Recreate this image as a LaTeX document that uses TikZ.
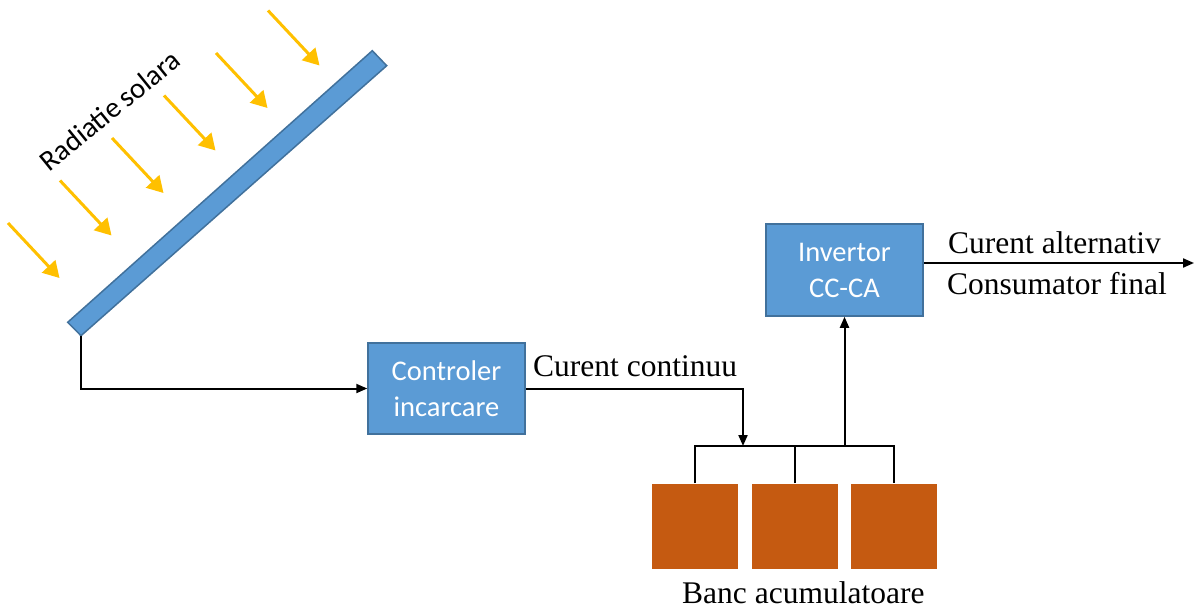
\documentclass[tikz,border=0pt]{standalone}
\usepackage{fontspec}
\setmainfont{Liberation Serif}
\newfontfamily\calfont{Carlito}
\usetikzlibrary{arrows.meta}
\definecolor{panelblue}{HTML}{5B9BD5}
\definecolor{paneledge}{HTML}{41719C}
\definecolor{sunray}{HTML}{FFC000}
\definecolor{cellfill}{HTML}{C55A11}
\tikzset{
  blockbox/.style={draw=paneledge, line width=1.5pt, fill=panelblue, text=white,
    minimum width=157pt, inner sep=0pt, align=center,
    font=\calfont\fontsize{28.5}{36}\selectfont},
  cellbox/.style={fill=cellfill, draw=none, minimum width=86pt, minimum height=85pt, inner sep=0pt},
  wire/.style={draw=black, line width=2pt},
  flow/.style={wire, -{Triangle[length=11pt,width=9pt]}},
  ray/.style={draw=sunray, line width=3pt, -{Triangle[length=16pt,width=18pt]}},
  serif/.style={font=\fontsize{31.5}{36}\selectfont, inner sep=0pt}
}
\begin{document}
\begin{tikzpicture}[x=1pt,y=-1pt]
\useasboundingbox (0,0) rectangle (1196,607);

% solar panel, drawn as a tilted slab
\draw[fill=panelblue, draw=paneledge, line width=1.5pt]
  (372.3,50.7) -- (386.7,65.7) -- (81,335.7) -- (67.7,322.3) -- cycle;
\coordinate (panelfoot) at (81,335.7);

% incoming sun rays
\foreach \i in {0,...,5}{
  \coordinate (rs\i) at ({8+52*\i},{223-42.5*\i});
  \coordinate (re\i) at ({59.5+52*\i},{278-42.5*\i});
  \draw[ray] (rs\i) -- (re\i);
}
\node[rotate=39, anchor=base, inner sep=0pt, font=\calfont\fontsize{29}{34}\selectfont]
  (sunlabel) at (116,118) {Radiatie\kern-1pt\ solara};

% blocks
\node[blockbox, minimum height=91pt] (ctrl) at (446.5,388.5) {Controler\\incarcare};
\node[blockbox, minimum height=92pt] (inv) at (844.5,270) {Invertor\\CC-CA};

% battery bank
\node[cellbox] (b1) at (694.5,526) {};
\node[cellbox] (b2) at (795,526) {};
\node[cellbox] (b3) at (894,526) {};
\coordinate (busy) at (0,446);
\coordinate (busin) at (743,446);
\coordinate (load) at (1194,263);

% connections
\draw[flow] (panelfoot) |- (ctrl.west);
\draw[flow] (ctrl.east) -| (busin);
\draw[wire] (b1.north) -- (b1.north |- busy) -- (b3.north |- busy) -- (b3.north);
\draw[wire] (b2.north) -- (b2.north |- busy);
\draw[flow] (inv.south |- busy) -- (inv.south);
\draw[flow] ([yshift=7pt]inv.east) -- (load);

% labels
\node[serif, anchor=base west] (dclabel) at (533,376) {Curent continuu};
\node[serif, anchor=base west] (aclabel) at (948,253) {Curent alternativ};
\node[serif, anchor=base west] (usrlabel) at (947,294) {Consumator final};
\node[serif, anchor=base west] (banklabel) at (682,603) {Banc acumulatoare};
\end{tikzpicture}
\end{document}
